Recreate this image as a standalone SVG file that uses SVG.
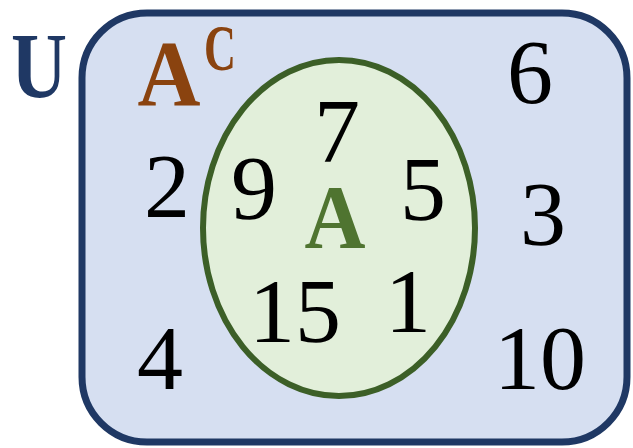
<svg xmlns="http://www.w3.org/2000/svg" width="633" height="448" viewBox="0 0 633 448">
<style>
.num{font-family:"Liberation Serif","Times New Roman",serif;font-size:92px;fill:#000;text-anchor:middle}
.lbl{font-family:"Liberation Serif","Times New Roman",serif;font-weight:bold;text-anchor:middle}
</style>
<rect width="633" height="448" fill="#ffffff"/>
<g id="universe">
<rect x="82" y="13" width="545" height="429" rx="65" ry="65" fill="#d6dff1" stroke="#1f3864" stroke-width="7"/>
<text class="lbl" x="39" y="97" font-size="94" fill="#1f3864" textLength="56" lengthAdjust="spacingAndGlyphs">U</text>
<text class="lbl" x="169" y="105" font-size="94" fill="#8a430f" textLength="63" lengthAdjust="spacingAndGlyphs">A</text>
<text class="lbl" x="220" y="70" font-size="66" fill="#8a430f" textLength="32" lengthAdjust="spacingAndGlyphs">C</text>
<text class="num" x="167" y="217">2</text>
<text class="num" x="530" y="103">6</text>
<text class="num" x="543" y="245">3</text>
<text class="num" x="160" y="389">4</text>
<text class="num" x="540" y="389">10</text>
</g>
<g id="setA">
<ellipse cx="339" cy="228" rx="136" ry="168" fill="#e2efda" stroke="#3c5f27" stroke-width="6"/>
<text class="lbl" x="335" y="248" font-size="90" fill="#4f7430" textLength="61" lengthAdjust="spacingAndGlyphs">A</text>
<text class="num" x="254" y="219">9</text>
<text class="num" x="337" y="162">7</text>
<text class="num" x="423" y="220">5</text>
<text class="num" x="295" y="342">15</text>
<text class="num" x="408" y="332">1</text>
</g>
<g id="connectors"/>
</svg>
